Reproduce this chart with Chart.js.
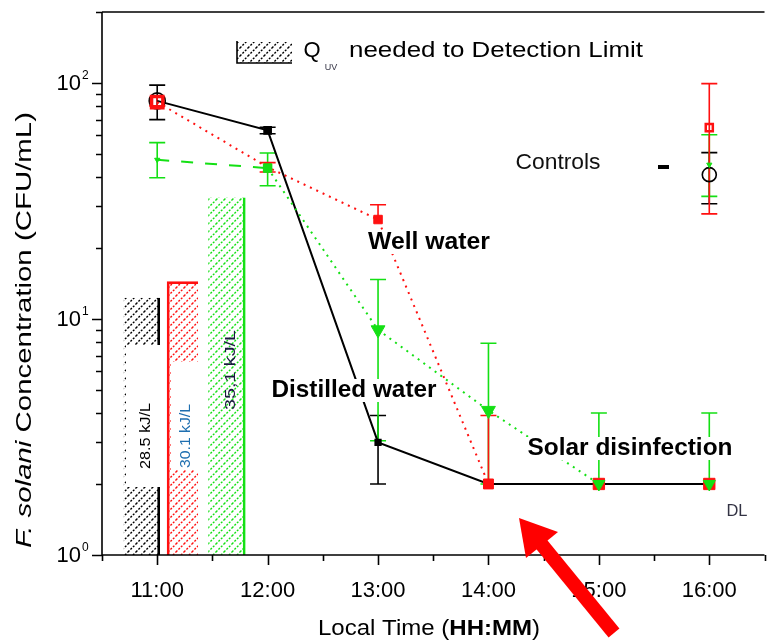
<!DOCTYPE html>
<html>
<head>
<meta charset="utf-8">
<script src="https://cdn.jsdelivr.net/npm/chart.js@4.4.0/dist/chart.umd.min.js"></script>
<style>
  html, body { margin: 0; padding: 0; background: #fff; overflow: hidden; }
  #wrap { width: 776px; height: 642px; }
</style>
</head>
<body>
<div id="wrap"><canvas id="solarChart" width="776" height="642"></canvas></div>
<script>
const times = [11, 12, 13, 14, 15, 16];
const tickHours = [11, 12, 13, 14, 15, 16];

// distilled water (black)
const distilled = [84, 63, 3, 2, 2, 2];
const distilledLow = [70, 61, 2, 2, 2, 2];
const distilledHigh = [98, 65, 3.9, 2, 2, 2];

// well water (red)
const well = [83, 44, 26.4, 2, 2, 2];
const wellLow = [80, 42, 26.4, 2, 2, 2];
const wellHigh = [87, 46, 30.5, 3.9, 2, 2];

// green series
const solar = [47.3, 43.6, 9, 4.1, 2, 2];
const solarLow = [39.7, 36.7, 3.05, 2, 2, 2];
const solarHigh = [55.9, 50.5, 14.7, 7.9, 4, 4];

// controls at 16:00 (black, red, green)
const controlTime = 16;
const controlValues = [40.9, 64.7, 45.1];
const controlLow = [30.8, 27.9, 33.1];
const controlHigh = [50.7, 99.4, 60.4];

// Q_UV needed to detection limit
const doseLabels = ['28.5 kJ/L', '30.1 kJ/L', '35,1 kJ/L'];
const doseTimes = [10.86, 11.23, 11.63];
const doseValues = [12.3, 14.4, 32.7];

const BLACK = '#000000';
const RED = '#ff1010';
const GREEN = '#14e014';
const FONT = "'Liberation Sans', Arial, sans-serif";

// dotted diagonal hatch
function hatch(color) {
    const c = document.createElement('canvas');
    c.width = 8; c.height = 8;
    const g = c.getContext('2d');
    g.strokeStyle = color;
    g.lineWidth = 1.4;
    g.setLineDash([2, 1.5]);
    g.beginPath();
    g.moveTo(0, 8); g.lineTo(8, 0);
    g.moveTo(-1, 1); g.lineTo(1, -1);
    g.moveTo(7, 9); g.lineTo(9, 7);
    g.stroke();
    return g.createPattern(c, 'repeat');
}

const ctx = document.getElementById('solarChart').getContext('2d');

function pts(vals) {
    return times.map((t, i) => ({ x: t, y: vals[i] }));
}

function fitText(c, text, cx, cy, font, width, color) {
    c.save();
    c.font = font;
    const w = c.measureText(text).width;
    c.translate(cx, cy);
    if (width) c.scale(width / w, 1);
    c.textAlign = 'center';
    c.textBaseline = 'middle';
    c.fillStyle = color || '#000';
    c.fillText(text, 0, 0);
    c.restore();
}

function richText(c, parts, cx, cy, width) {
    c.save();
    let total = 0;
    parts.forEach(p => { c.font = p[1]; total += c.measureText(p[0]).width; });
    c.translate(cx, cy);
    c.scale(width / total, 1);
    c.textBaseline = 'middle';
    c.textAlign = 'left';
    c.fillStyle = '#000';
    let px = -total / 2;
    parts.forEach(p => {
        c.font = p[1];
        c.fillText(p[0], px, 0);
        px += c.measureText(p[0]).width;
    });
    c.restore();
}

function errorBars(c, x, y, xs, vals, lows, highs, color) {
    c.save();
    c.strokeStyle = color;
    c.lineWidth = 1.6;
    xs.forEach((t, i) => {
        const px = x.getPixelForValue(t);
        const pl = y.getPixelForValue(lows[i]);
        const ph = y.getPixelForValue(highs[i]);
        if (Math.abs(pl - ph) < 1) return;
        c.beginPath();
        c.moveTo(px, pl); c.lineTo(px, ph);
        if (highs[i] > vals[i]) { c.moveTo(px - 8, ph); c.lineTo(px + 8, ph); }
        if (lows[i] < vals[i]) { c.moveTo(px - 8, pl); c.lineTo(px + 8, pl); }
        c.stroke();
    });
    c.restore();
}

function whiteBox(c, x0, y0, x1, y1) {
    c.fillStyle = '#fff';
    c.fillRect(x0, y0, x1 - x0, y1 - y0);
}

const annotate = {
    id: 'annotate',
    beforeDatasetsDraw(chart) {
        const c = chart.ctx;
        const { x, y } = chart.scales;
        const ctrlX = controlValues.map(() => controlTime);
        errorBars(c, x, y, times, distilled, distilledLow, distilledHigh, BLACK);
        errorBars(c, x, y, [ctrlX[0]], [controlValues[0]], [controlLow[0]], [controlHigh[0]], BLACK);
        errorBars(c, x, y, times, solar, solarLow, solarHigh, GREEN);
        errorBars(c, x, y, [ctrlX[2]], [controlValues[2]], [controlLow[2]], [controlHigh[2]], GREEN);
        errorBars(c, x, y, times, well, wellLow, wellHigh, RED);
        errorBars(c, x, y, [ctrlX[1]], [controlValues[1]], [controlLow[1]], [controlHigh[1]], RED);
    },
    afterDatasetsDraw(chart) {
        const c = chart.ctx;
        c.save();
        // dose labels inside the hatched bars
        whiteBox(c, 126, 345, 160, 487);
        whiteBox(c, 171, 362, 200, 470);
        const doseColors = ['#000', '#1f6fb0', '#1a1a40'];
        const doseCenters = [[146, 436], [186, 436], [231, 370]];
        const doseWidths = [66, 64, 80];
        doseLabels.forEach((t, i) => {
            c.save();
            c.translate(doseCenters[i][0], doseCenters[i][1]);
            c.rotate(-Math.PI / 2);
            fitText(c, t, 0, 0, '15px ' + FONT, doseWidths[i], doseColors[i]);
            c.restore();
        });
        // series labels
        whiteBox(c, 366, 231, 492, 254);
        fitText(c, 'Well water', 429, 242, 'bold 24px ' + FONT, 122);
        whiteBox(c, 270, 379, 439, 402);
        fitText(c, 'Distilled water', 354, 390, 'bold 24px ' + FONT, 165);
        whiteBox(c, 526, 437, 735, 460);
        fitText(c, 'Solar disinfection', 630, 448, 'bold 24px ' + FONT, 205);
        fitText(c, 'Controls', 558, 163, '22px ' + FONT, 85, '#111');
        c.fillStyle = '#000';
        c.fillRect(658, 165, 11, 4);
        fitText(c, 'DL', 737, 511, '17px ' + FONT, 21, '#334');
        c.restore();
    },
    afterDraw(chart) {
        const c = chart.ctx;
        const { x, y } = chart.scales;
        const a = chart.chartArea;
        c.save();
        c.strokeStyle = '#000';
        c.lineWidth = 1.6;
        c.beginPath();
        c.moveTo(a.left, a.top); c.lineTo(a.left, a.bottom); c.lineTo(a.right, a.bottom);
        c.moveTo(a.left, a.top); c.lineTo(a.right, a.top);
        // x ticks
        for (let h = x.min; h <= x.max + 0.001; h += 0.5) {
            const px = Math.round(x.getPixelForValue(h)) + 0.5;
            const len = Number.isInteger(h) ? 10 : 6;
            c.moveTo(px, a.bottom); c.lineTo(px, a.bottom + len);
        }
        // y ticks
        for (let dec = 1; dec <= y.max; dec *= 10) {
            for (let m = 1; m <= 9; m++) {
                const v = m * dec;
                if (v > y.max) break;
                const py = Math.round(y.getPixelForValue(v)) + 0.5;
                const len = m === 1 ? 10 : 6;
                c.moveTo(a.left - len, py); c.lineTo(a.left, py);
            }
        }
        c.stroke();
        // x tick labels
        tickHours.forEach(h => {
            fitText(c, h + ':00', x.getPixelForValue(h), 591, '22px ' + FONT, 0, '#000');
        });
        // y tick labels 10^n
        for (let n = 0, dec = 1; dec <= y.max; n++, dec *= 10) {
            const py = y.getPixelForValue(dec);
            c.fillStyle = '#000';
            c.textBaseline = 'middle';
            c.textAlign = 'right';
            c.font = '22px ' + FONT;
            c.fillText('10', 81, py + 1);
            c.textAlign = 'left';
            c.font = '12px ' + FONT;
            c.fillText(String(n), 82, py - 7);
        }
        // axis titles
        richText(c, [['Local Time (', '22px ' + FONT], ['HH:MM', 'bold 22px ' + FONT], [')', '22px ' + FONT]], 429, 629, 222);
        c.save();
        c.translate(25, 330);
        c.rotate(-Math.PI / 2);
        richText(c, [['F. solani', 'italic 22px ' + FONT], [' Concentration (CFU/mL)', '22px ' + FONT]], 0, 0, 436);
        c.restore();
        // legend
        c.fillStyle = hatch('#000');
        c.fillRect(237, 42, 55, 21);
        c.beginPath();
        c.moveTo(237, 41); c.lineTo(237, 63); c.lineTo(292, 63);
        c.stroke();
        fitText(c, 'Q', 312, 51, '22px ' + FONT, 0, '#000');
        fitText(c, 'UV', 331, 68, '9px ' + FONT, 0, '#334');
        c.save();
        c.font = '22px ' + FONT;
        const lw = c.measureText('needed to Detection Limit').width;
        c.translate(349, 51);
        c.scale(294 / lw, 1);
        c.textAlign = 'left';
        c.textBaseline = 'middle';
        c.fillStyle = '#000';
        c.fillText('needed to Detection Limit', 0, 0);
        c.restore();
        // red arrow
        c.strokeStyle = '#ff0000';
        c.fillStyle = '#ff0000';
        c.lineWidth = 14;
        c.beginPath();
        c.moveTo(614, 633); c.lineTo(538, 540);
        c.stroke();
        c.beginPath();
        c.moveTo(519, 518); c.lineTo(526, 558); c.lineTo(558, 532);
        c.closePath();
        c.fill();
        c.restore();
    }
};

new Chart(ctx, {
    type: 'line',
    data: {
        datasets: [
            {
                label: 'Controls',
                data: controlValues.map(v => ({ x: controlTime, y: v })),
                showLine: false,
                pointStyle: ['circle', 'rect', 'triangle'],
                pointRotation: [0, 0, 180],
                pointRadius: [7, 5, 3],
                pointBorderWidth: [1.6, 2.5, 1],
                pointBorderColor: [BLACK, RED, GREEN],
                pointBackgroundColor: ['rgba(0,0,0,0)', 'rgba(0,0,0,0)', GREEN]
            },
            {
                label: 'Solar disinfection',
                data: pts(solar),
                borderColor: GREEN,
                borderWidth: 2,
                segment: {
                    borderDash: s => s.p0DataIndex === 0 ? [12, 12] : [2, 5],
                    borderColor: s => s.p0DataIndex >= 4 ? 'rgba(0,0,0,0)' : GREEN
                },
                pointStyle: ['triangle', 'rect', 'triangle', 'triangle', 'triangle', 'triangle'],
                pointRotation: 180,
                pointRadius: [3, 6, 8, 8, 7, 7],
                pointBorderWidth: 1,
                pointBorderColor: GREEN,
                pointBackgroundColor: GREEN
            },
            {
                label: 'Well water',
                data: pts(well),
                borderColor: RED,
                borderWidth: 2,
                borderDash: [2, 5],
                segment: {
                    borderColor: s => s.p0DataIndex >= 3 ? 'rgba(0,0,0,0)' : RED
                },
                pointStyle: 'rect',
                pointRadius: [8, 5, 6, 7, 8, 8],
                pointBorderWidth: [3.5, 1, 1, 1, 1, 1],
                pointBorderColor: RED,
                pointBackgroundColor: ['rgba(0,0,0,0)', RED, RED, RED, RED, RED]
            },
            {
                label: 'Distilled water',
                data: pts(distilled),
                borderColor: BLACK,
                borderWidth: 2,
                pointStyle: ['circle', 'rect', 'rect', 'rect', 'rect', 'rect'],
                pointRadius: [8, 5, 4, 0, 0, 0],
                pointBorderWidth: 1.6,
                pointBorderColor: BLACK,
                pointBackgroundColor: ['rgba(0,0,0,0)', BLACK, BLACK, BLACK, BLACK, BLACK]
            },
            {
                type: 'bar',
                data: [{ x: doseTimes[0], y: doseValues[0] }],
                grouped: false,
                barThickness: 36,
                backgroundColor: hatch(BLACK),
                borderColor: BLACK,
                borderWidth: { right: 2 },
                borderSkipped: false
            },
            {
                type: 'bar',
                data: [{ x: doseTimes[1], y: doseValues[1] }],
                grouped: false,
                barThickness: 31,
                backgroundColor: hatch(RED),
                borderColor: RED,
                borderWidth: { left: 2, top: 2 },
                borderSkipped: false
            },
            {
                type: 'bar',
                data: [{ x: doseTimes[2], y: doseValues[2] }],
                grouped: false,
                barThickness: 37,
                backgroundColor: hatch(GREEN),
                borderColor: GREEN,
                borderWidth: { right: 2 },
                borderSkipped: false
            }
        ]
    },
    options: {
        responsive: false,
        animation: false,
        layout: { padding: { left: 0, top: 12, right: 4, bottom: 0 } },
        plugins: { legend: { display: false }, tooltip: { enabled: false } },
        scales: {
            x: {
                type: 'linear',
                min: 10.5,
                max: 16.5,
                offset: false,
                ticks: { display: false },
                grid: { display: false },
                border: { display: false },
                afterFit: s => { s.height = 87; }
            },
            y: {
                type: 'logarithmic',
                min: 1,
                max: 200,
                ticks: { display: false },
                grid: { display: false },
                border: { display: false },
                afterFit: s => { s.width = 102; }
            }
        }
    },
    plugins: [annotate]
});
</script>
</body>
</html>
